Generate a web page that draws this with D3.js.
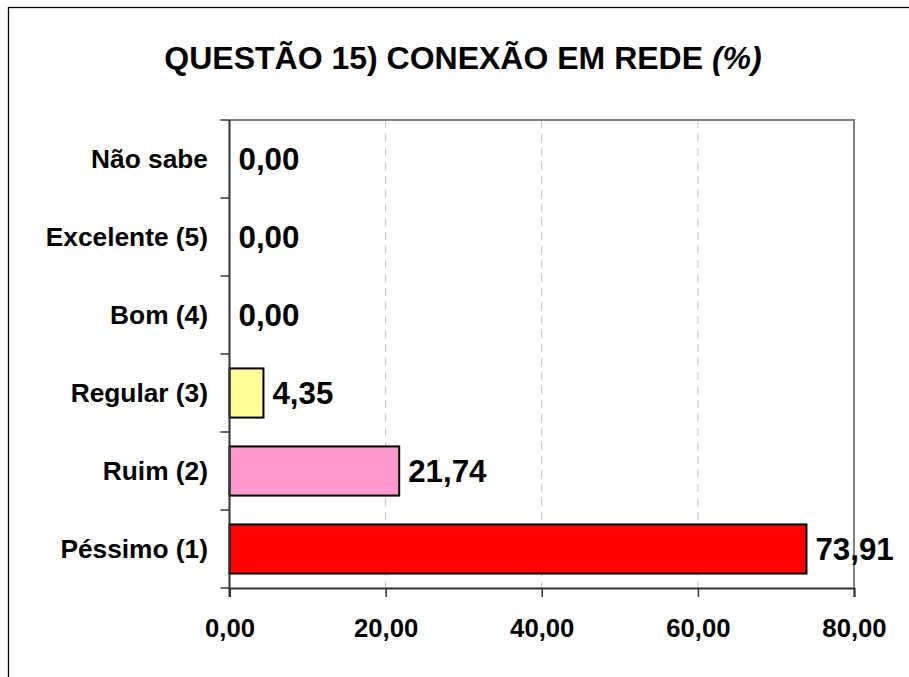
<!DOCTYPE html>
<html>
<head>
<meta charset="utf-8">
<script src="https://cdn.jsdelivr.net/npm/d3@7"></script>
<style>
  html, body { margin: 0; padding: 0; background: #fff; }
  svg { display: block; font-family: "Liberation Sans", Arial, sans-serif; }
</style>
</head>
<body>
<svg id="chart" width="909" height="677"></svg>
<script>
const titleMain = "QUESTÃO 15) CONEXÃO EM REDE ";
const titleUnit = "(%)";
const categories = ["Péssimo (1)", "Ruim (2)", "Regular (3)", "Bom (4)", "Excelente (5)", "Não sabe"];
const values = [73.91, 21.74, 4.35, 0.00, 0.00, 0.00];
const barColors = ["#FF0000", "#FF99CC", "#FFFF99", "#FFFFFF", "#FFFFFF", "#FFFFFF"];
const xTicks = [0, 20, 40, 60, 80];

const svg = d3.select("#chart");
const fmt = v => d3.format(".2f")(v).replace(".", ",");

const plot = { left: 229.5, right: 854, top: 120, bottom: 588 };

// outer chart border (extends beyond viewport on right and bottom)
svg.append("rect")
  .attr("x", 8.5).attr("y", 7.5)
  .attr("width", 940).attr("height", 700)
  .attr("fill", "none").attr("stroke", "#000").attr("stroke-width", 1.3);

// title
const title = svg.append("text")
  .attr("x", 463).attr("y", 69)
  .attr("text-anchor", "middle")
  .attr("font-size", 32).attr("font-weight", "bold").attr("fill", "#000");
title.append("tspan").text(titleMain);
title.append("tspan").attr("font-style", "italic").text(titleUnit);

const x = d3.scaleLinear().domain([0, 80]).range([plot.left, plot.right]);
const y = d3.scaleBand().domain(categories).range([plot.bottom, plot.top]).padding(0);
const step = y.step();

// gridlines
svg.append("g").selectAll("line")
  .data(xTicks.filter(t => t > 0 && t < 80))
  .join("line")
  .attr("x1", d => x(d)).attr("x2", d => x(d))
  .attr("y1", plot.top).attr("y2", plot.bottom)
  .attr("stroke", "#c0c0c0").attr("stroke-width", 1)
  .attr("stroke-dasharray", "8,6");

// plot frame top & right
svg.append("path")
  .attr("d", `M${plot.left},${plot.top}H${plot.right}V${plot.bottom}`)
  .attr("fill", "none").attr("stroke", "#808080").attr("stroke-width", 2);

// bars
svg.append("g").selectAll("rect")
  .data(categories.map((c, i) => ({ c, v: values[i], col: barColors[i] })).filter(d => d.v > 0))
  .join("rect")
  .attr("x", x(0))
  .attr("y", d => y(d.c) + step * 0.185)
  .attr("width", d => x(d.v) - x(0))
  .attr("height", step * 0.63)
  .attr("fill", d => d.col)
  .attr("stroke", "#000").attr("stroke-width", 2);

// value labels
svg.append("g").selectAll("text")
  .data(categories.map((c, i) => ({ c, v: values[i] })))
  .join("text")
  .attr("x", d => x(d.v) + 9)
  .attr("y", d => y(d.c) + step / 2)
  .attr("dy", "0.36em")
  .attr("font-size", 31.3).attr("font-weight", "bold").attr("fill", "#000")
  .text(d => fmt(d.v));

// x axis
const xAxis = svg.append("g")
  .attr("transform", `translate(0,${plot.bottom})`)
  .call(d3.axisBottom(x).tickValues(xTicks).tickSize(9).tickPadding(22).tickFormat(fmt));
xAxis.select(".domain").attr("stroke", "#333").attr("stroke-width", 2);
xAxis.selectAll(".tick line").attr("stroke", "#333").attr("stroke-width", 1.5);
xAxis.selectAll(".tick text")
  .attr("font-size", 25.7).attr("font-weight", "bold").attr("fill", "#000")
  .attr("font-family", "'Liberation Sans', Arial, sans-serif");

// y axis line
svg.append("line")
  .attr("x1", plot.left).attr("x2", plot.left)
  .attr("y1", plot.top).attr("y2", plot.bottom + 9)
  .attr("stroke", "#333").attr("stroke-width", 2);

// y ticks at band boundaries
const bounds = categories.map(c => y(c)).concat([plot.bottom]);
svg.append("g").selectAll("line")
  .data(bounds)
  .join("line")
  .attr("x1", plot.left - 9).attr("x2", plot.left)
  .attr("y1", d => d).attr("y2", d => d)
  .attr("stroke", "#333").attr("stroke-width", 1.5);

// category labels
svg.append("g").selectAll("text")
  .data(categories)
  .join("text")
  .attr("x", 208)
  .attr("y", d => y(d) + step / 2)
  .attr("dy", "0.36em")
  .attr("text-anchor", "end")
  .attr("font-size", 26.3).attr("font-weight", "bold").attr("fill", "#000")
  .text(d => d);
</script>
</body>
</html>
